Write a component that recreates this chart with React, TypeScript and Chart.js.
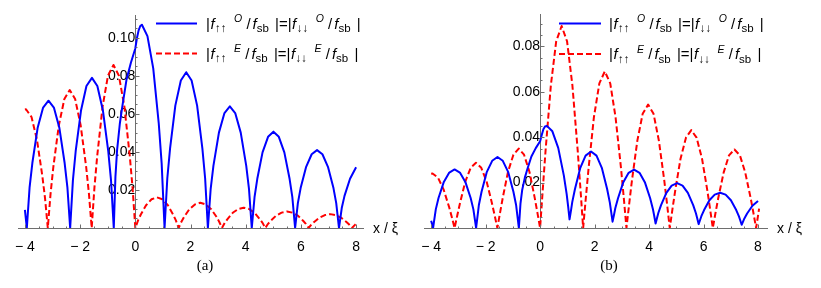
import React, { useEffect, useRef } from 'react';
import { Chart, registerables } from 'chart.js';

Chart.register(...registerables);

// ---------- Panel (a) ----------
const aOddX = [-4.0, -3.93, -3.83, -3.73, -3.54, -3.34, -3.145, -2.95, -2.75, -2.56, -2.46, -2.36, -2.26, -2.16, -1.965, -1.77, -1.57, -1.375, -1.175, -0.98, -0.88, -0.78, -0.72, -0.66, -0.56, -0.47, -0.32, -0.16, 0, 0.06, 0.12, 0.18, 0.24, 0.44, 0.65, 0.85, 0.955, 1.06, 1.16, 1.26, 1.45, 1.65, 1.845, 2.04, 2.24, 2.43, 2.53, 2.63, 2.73, 2.83, 3.03, 3.23, 3.425, 3.62, 3.82, 4.02, 4.12, 4.22, 4.32, 4.42, 4.61, 4.81, 5.005, 5.2, 5.4, 5.59, 5.69, 5.79, 5.89, 5.99, 6.19, 6.39, 6.585, 6.78, 6.98, 7.18, 7.28, 7.38, 7.48, 7.58, 7.78, 8.0];
const aOddY = [0.0095, 0, 0.0214, 0.0342, 0.0526, 0.0634, 0.067, 0.0634, 0.0526, 0.0342, 0.0214, 0, 0.0252, 0.0404, 0.062, 0.0747, 0.079, 0.0747, 0.062, 0.0404, 0.0252, 0, 0.027, 0.041, 0.055, 0.064, 0.078, 0.087, 0.0945, 0.1, 0.104, 0.1063, 0.107, 0.101, 0.084, 0.055, 0.034, 0, 0.0262, 0.0419, 0.0644, 0.0776, 0.082, 0.0776, 0.0644, 0.0419, 0.0262, 0, 0.0204, 0.0327, 0.0502, 0.0605, 0.064, 0.0605, 0.0502, 0.0327, 0.0204, 0, 0.0162, 0.0259, 0.0398, 0.048, 0.0507, 0.048, 0.0398, 0.0259, 0.0162, 0, 0.0131, 0.021, 0.0322, 0.0388, 0.041, 0.0388, 0.0322, 0.021, 0.0131, 0, 0.0105, 0.0169, 0.0259, 0.032];
const aEvenX = [-4.0, -3.96, -3.76, -3.565, -3.37, -3.27, -3.17, -3.07, -2.97, -2.77, -2.57, -2.375, -2.18, -1.98, -1.78, -1.68, -1.58, -1.48, -1.38, -1.185, -0.99, -0.79, -0.595, -0.395, -0.2, -0.1, 0, 0.1, 0.2, 0.39, 0.59, 0.785, 0.98, 1.18, 1.37, 1.47, 1.57, 1.67, 1.77, 1.96, 2.16, 2.355, 2.55, 2.75, 2.94, 3.04, 3.14, 3.24, 3.34, 3.53, 3.73, 3.925, 4.12, 4.32, 4.51, 4.61, 4.71, 4.81, 4.91, 5.1, 5.3, 5.495, 5.69, 5.89, 6.08, 6.18, 6.28, 6.38, 6.48, 6.67, 6.87, 7.065, 7.26, 7.46, 7.65, 7.75, 7.85, 7.95, 8.0];
const aEvenY = [0.0624, 0.0625, 0.0584, 0.0466, 0.0276, 0.0156, 0,
  0.0181, 0.0321, 0.0541, 0.0679, 0.0726, 0.0679, 0.0541, 0.0321, 0.0181, 0,
  0.0214, 0.0379, 0.0639, 0.0802, 0.0858, 0.0802, 0.0639, 0.0379, 0.0214, 0,
  0.004, 0.0071, 0.012, 0.0151, 0.0161, 0.0151, 0.012, 0.0071, 0.004, 0,
  0.0033, 0.0059, 0.0099, 0.0124, 0.0133, 0.0124, 0.0099, 0.0059, 0.0033, 0,
  0.0027, 0.0047, 0.008, 0.01, 0.0107, 0.01, 0.008, 0.0047, 0.0027, 0,
  0.0022, 0.0038, 0.0065, 0.0081, 0.0087, 0.0081, 0.0065, 0.0038, 0.0022, 0,
  0.0018, 0.0032, 0.0054, 0.0068, 0.0073, 0.0068, 0.0054, 0.0032, 0.0018, 0,
  0.0015, 0.0022];

// ---------- Panel (b) ----------
const bOddX = [-4.0, -3.93, -3.83, -3.73, -3.535, -3.335, -3.14, -2.945, -2.745, -2.55, -2.45, -2.35, -2.25, -2.15, -1.96, -1.76, -1.565, -1.37, -1.17, -0.98, -0.88, -0.78, -0.72, -0.66, -0.56, -0.47, -0.32, -0.16, 0, 0.06, 0.12, 0.18, 0.25, 0.45, 0.665, 0.87, 0.975, 1.03, 1.08, 1.13, 1.18, 1.28, 1.475, 1.67, 1.87, 2.07, 2.265, 2.46, 2.56, 2.61, 2.66, 2.71, 2.76, 2.86, 3.055, 3.25, 3.45, 3.65, 3.845, 4.04, 4.14, 4.19, 4.24, 4.29, 4.34, 4.44, 4.635, 4.83, 5.03, 5.23, 5.425, 5.62, 5.72, 5.77, 5.82, 5.87, 5.92, 6.02, 6.215, 6.41, 6.61, 6.81, 7.005, 7.2, 7.3, 7.35, 7.4, 7.45, 7.5, 7.6, 7.795, 8.0];
const bOddY = [0.0032, 0, 0.0082, 0.0132, 0.0203, 0.0244, 0.0258, 0.0244, 0.0203, 0.0132, 0.0082, 0,
  0.01, 0.016, 0.0246, 0.0296, 0.0313, 0.0296, 0.0246, 0.016, 0.01, 0,
  0.0109, 0.0166, 0.0222, 0.0259, 0.0315, 0.0352, 0.0382,
  0.041, 0.0435, 0.0447, 0.045,
  0.0426, 0.0353, 0.0232, 0.0149, 0.0094, 0.0038,
  0.0074, 0.0114, 0.0172, 0.0265, 0.0319, 0.0337, 0.0319, 0.0265, 0.0172, 0.0112, 0.007, 0.0028,
  0.0056, 0.0087, 0.0131, 0.0202, 0.0243, 0.0257, 0.0243, 0.0202, 0.0131, 0.0084, 0.0053, 0.002,
  0.0043, 0.0066, 0.0101, 0.0155, 0.0187, 0.0198, 0.0187, 0.0155, 0.0101, 0.0065, 0.0042, 0.0017,
  0.0034, 0.0052, 0.0079, 0.0122, 0.0147, 0.0155, 0.0147, 0.0122, 0.0079, 0.0051, 0.0033, 0.0014,
  0.0028, 0.0042, 0.0064, 0.0098, 0.0119];
const bEvenX = [-4.0, -3.95, -3.75, -3.545, -3.34, -3.24, -3.14, -3.04, -2.94, -2.75, -2.55, -2.355, -2.16, -1.96, -1.77, -1.67, -1.57, -1.47, -1.37, -1.18, -0.98, -0.785, -0.59, -0.39, -0.2, -0.1, 0, 0.1, 0.2, 0.395, 0.59, 0.79, 0.99, 1.185, 1.38, 1.48, 1.58, 1.68, 1.78, 1.975, 2.175, 2.375, 2.575, 2.77, 2.97, 3.07, 3.17, 3.27, 3.37, 3.57, 3.765, 3.965, 4.165, 4.36, 4.56, 4.66, 4.76, 4.86, 4.96, 5.155, 5.355, 5.55, 5.745, 5.945, 6.14, 6.24, 6.34, 6.44, 6.54, 6.74, 6.935, 7.135, 7.335, 7.53, 7.73, 7.83, 7.93, 8.04];
const bEvenY = [0.0239, 0.024, 0.0222, 0.017, 0.0092, 0.0047, 0,
  0.0056, 0.011, 0.0203, 0.0265, 0.0287, 0.0265, 0.0203, 0.011, 0.0056, 0,
  0.0068, 0.0134, 0.0247, 0.0323, 0.035, 0.0323, 0.0247, 0.0134, 0.0068, 0,
  0.0174, 0.0341, 0.0629, 0.0822, 0.089, 0.0822, 0.0629, 0.0341, 0.0174, 0,
  0.0135, 0.0264, 0.0488, 0.0637, 0.069, 0.0637, 0.0488, 0.0264, 0.0135, 0,
  0.0106, 0.0208, 0.0385, 0.0503, 0.0544, 0.0503, 0.0385, 0.0208, 0.0106, 0,
  0.0084, 0.0165, 0.0305, 0.0398, 0.0431, 0.0398, 0.0305, 0.0165, 0.0084, 0,
  0.0067, 0.0132, 0.0245, 0.032, 0.0346, 0.032, 0.0245, 0.0132, 0.0067, 0,
  0.0085];

const xStep = 2;
const yStep = 0.02;
const xAxisLabel = 'x / ξ';
const captions = ['(a)', '(b)'];

// [text, kind, extra gap before]
type Seg = [string, 'n' | 'i' | 'sub' | 'sup', number];
const legendOdd: Seg[] = [['|', 'n', 0], ['f', 'i', 0.5], ['↑↑', 'sub', 0.5], ['O', 'sup', 7.5], [' /', 'n', 0], ['f', 'i', 2], ['sb', 'sub', 0], [' |=|', 'n', 2], ['f', 'i', 0.5], ['↓↓', 'sub', 0.5], ['O', 'sup', 7.5], [' /', 'n', 0], ['f', 'i', 2], ['sb', 'sub', 0], [' |', 'n', 2]];
const legendEven: Seg[] = [['|', 'n', 0], ['f', 'i', 0.5], ['↑↑', 'sub', 0.5], ['E', 'sup', 7.5], [' /', 'n', 0], ['f', 'i', 2], ['sb', 'sub', 0], [' |=|', 'n', 2], ['f', 'i', 0.5], ['↓↓', 'sub', 0.5], ['E', 'sup', 7.5], [' /', 'n', 0], ['f', 'i', 2], ['sb', 'sub', 0], [' |', 'n', 2]];

const SANS = '"Liberation Sans", Arial, "DejaVu Sans", sans-serif';
const AXIS = '#6e6e6e';
const BLUE = '#0000ff';
const RED = '#ff0000';

function drawRich(ctx: CanvasRenderingContext2D, x: number, y: number, segs: Seg[]) {
  let cx = x;
  ctx.fillStyle = '#000';
  ctx.textAlign = 'left';
  ctx.textBaseline = 'alphabetic';
  for (const [t, k, gap] of segs) {
    let dy = 0;
    cx += gap;
    if (k === 'n') ctx.font = `15px ${SANS}`;
    else if (k === 'i') ctx.font = `italic 15px ${SANS}`;
    else if (k === 'sub') { ctx.font = `11.5px ${SANS}`; dy = 3.5; }
    else { ctx.font = `italic 10.5px ${SANS}`; dy = -6.5; }
    ctx.fillText(t, cx, y + dy);
    cx += ctx.measureText(t).width;
  }
}

type PanelSpec = {
  oddX: number[]; oddY: number[]; evenX: number[]; evenY: number[];
  xMin: number; xMax: number; yMax: number;
  pad: { left: number; right: number; top: number };
  legX1: number; legX2: number; legTextX: number; legY: [number, number];
  caption: string; captionX: number;
};

function makeChart(canvas: HTMLCanvasElement, p: PanelSpec) {
  const extras = {
    id: 'extras',
    afterDraw(chart: any) {
      const ctx: CanvasRenderingContext2D = chart.ctx;
      const xs = chart.scales.x;
      const ys = chart.scales.y;
      const area = chart.chartArea;
      const x0 = Math.round(xs.getPixelForValue(0)) + 0.5;
      const yb = Math.round(area.bottom) + 0.5;
      ctx.save();
      ctx.strokeStyle = AXIS;
      ctx.lineWidth = 1;
      const i0 = Math.ceil(p.xMin / 0.5);
      const i1 = Math.floor(p.xMax / 0.5);
      for (let i = i0; i <= i1; i++) {
        const v = i * 0.5;
        const major = i % 4 === 0;
        const px = Math.round(xs.getPixelForValue(v)) + 0.5;
        ctx.beginPath();
        ctx.moveTo(px, yb);
        ctx.lineTo(px, yb - (major ? 4 : 2));
        ctx.stroke();
      }
      const j1 = Math.floor(p.yMax / 0.005 + 1e-6);
      for (let j = 1; j <= j1; j++) {
        const v = j * 0.005;
        const major = j % 4 === 0;
        const py = Math.round(ys.getPixelForValue(v)) + 0.5;
        ctx.beginPath();
        ctx.moveTo(x0, py);
        ctx.lineTo(x0 + (major ? 4 : 2), py);
        ctx.stroke();
      }
      ctx.fillStyle = '#000';
      ctx.font = `14px ${SANS}`;
      ctx.textAlign = 'left';
      ctx.textBaseline = 'middle';
      ctx.fillText(xAxisLabel, area.right + 10, area.bottom + 1);
      ctx.font = `15px "Liberation Serif", "DejaVu Serif", serif`;
      ctx.textAlign = 'center';
      ctx.fillText(p.caption, p.captionX, 266);
      ctx.lineWidth = 2;
      ctx.strokeStyle = BLUE;
      ctx.setLineDash([]);
      ctx.beginPath();
      ctx.moveTo(p.legX1, p.legY[0]);
      ctx.lineTo(p.legX2, p.legY[0]);
      ctx.stroke();
      ctx.strokeStyle = RED;
      ctx.setLineDash([6, 3]);
      ctx.beginPath();
      ctx.moveTo(p.legX1, p.legY[1]);
      ctx.lineTo(p.legX2, p.legY[1]);
      ctx.stroke();
      ctx.setLineDash([]);
      drawRich(ctx, p.legTextX, p.legY[0] + 5, legendOdd);
      drawRich(ctx, p.legTextX, p.legY[1] + 5, legendEven);
      ctx.restore();
    },
  };

  return new Chart(canvas, {
    type: 'line',
    data: {
      datasets: [
        {
          data: p.oddX.map((x, i) => ({ x, y: p.oddY[i] })),
          borderColor: BLUE,
          borderWidth: 2,
          pointRadius: 0,
          tension: 0,
          borderJoinStyle: 'round',
          fill: false,
        },
        {
          data: p.evenX.map((x, i) => ({ x, y: p.evenY[i] })),
          borderColor: RED,
          borderWidth: 2,
          borderDash: [6, 3],
          pointRadius: 0,
          tension: 0,
          borderJoinStyle: 'round',
          fill: false,
        },
      ],
    },
    options: {
      animation: false,
      responsive: false,
      maintainAspectRatio: false,
      layout: { padding: { left: p.pad.left, right: p.pad.right, top: p.pad.top, bottom: 0 } },
      plugins: { legend: { display: false }, tooltip: { enabled: false }, title: { display: false } },
      scales: {
        x: {
          type: 'linear',
          position: 'bottom',
          min: p.xMin,
          max: p.xMax,
          grid: { display: false, drawTicks: false },
          border: { display: true, color: AXIS, width: 1 },
          ticks: {
            stepSize: xStep,
            includeBounds: false,
            padding: 11,
            color: '#000',
            font: { family: SANS, size: 14 },
            maxRotation: 0,
            autoSkip: false,
            callback: (v: any) => (Number(v) < 0 ? '\u2212 ' + Math.abs(Number(v)) : String(v)),
          },
          afterFit: (s: any) => { s.height = 60; },
        },
        y: {
          type: 'linear',
          position: { x: 0 } as any,
          min: 0,
          max: p.yMax,
          z: 1,
          grid: { display: false, drawTicks: false },
          border: { display: true, color: AXIS, width: 1 },
          ticks: {
            stepSize: yStep,
            includeBounds: false,
            padding: 6,
            color: '#000',
            font: { family: SANS, size: 14 },
            callback: (v: any) => (Math.abs(Number(v)) < 1e-9 ? '' : Number(v).toFixed(2)),
          },
        },
      },
    },
    plugins: [extras],
  } as any);
}

const panelA: PanelSpec = {
  oddX: aOddX, oddY: aOddY, evenX: aEvenX, evenY: aEvenY,
  xMin: -4.25, xMax: 8.25, yMax: 0.1121,
  pad: { left: 18, right: 47, top: 15 },
  legX1: 156, legX2: 197, legTextX: 206, legY: [23.5, 53.5],
  caption: captions[0], captionX: 205,
};
const panelB: PanelSpec = {
  oddX: bOddX, oddY: bOddY, evenX: bEvenX, evenY: bEvenY,
  xMin: -4.25, xMax: 8.33, yMax: 0.0941,
  pad: { left: 12, right: 54, top: 14 },
  legX1: 149, legX2: 191, legTextX: 199, legY: [23.5, 54],
  caption: captions[1], captionX: 199,
};

export default function App() {
  const refA = useRef<HTMLCanvasElement>(null);
  const refB = useRef<HTMLCanvasElement>(null);
  useEffect(() => {
    const ca = makeChart(refA.current!, panelA);
    const cb = makeChart(refB.current!, panelB);
    return () => { ca.destroy(); cb.destroy(); };
  }, []);
  return (
    <div style={{ position: 'fixed', left: 0, top: 0, width: 821, height: 288, background: '#fff' }}>
      <canvas ref={refA} width={410} height={288} style={{ position: 'absolute', left: 0, top: 0, width: 410, height: 288 }} />
      <canvas ref={refB} width={411} height={288} style={{ position: 'absolute', left: 410, top: 0, width: 411, height: 288 }} />
    </div>
  );
}
